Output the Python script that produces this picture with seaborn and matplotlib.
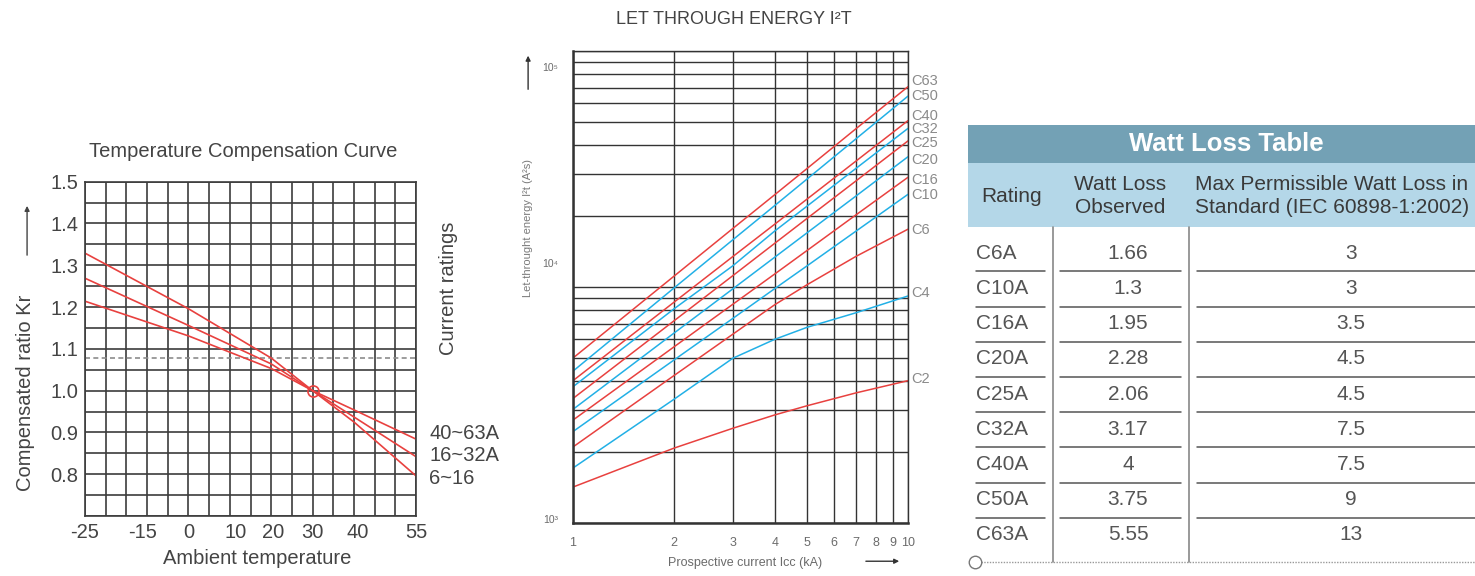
import numpy as np
import pandas as pd
import matplotlib
matplotlib.use("Agg")
import matplotlib.pyplot as plt
from matplotlib.ticker import MultipleLocator, FixedLocator, NullLocator, NullFormatter, LogLocator
from matplotlib.patches import Rectangle
import seaborn as sns

# --- temperature compensation curve ---
temp_c = [-25, 0, 20, 30, 40, 55]
kr_6_16 = [1.329, 1.196, 1.078, 1.0, 0.925, 0.796]
kr_16_32 = [1.269, 1.156, 1.064, 1.0, 0.937, 0.842]
kr_40_63 = [1.214, 1.131, 1.053, 1.0, 0.954, 0.884]
kr_series = ["40~63A", "16~32A", "6~16"]
kr_ref = 1.078
temp_tick_pos = [-25, -11, 0, 11.5, 20.5, 30, 41, 55]
temp_tick_labels = ["-25", "-15", "0", "10", "20", "30", "40", "55"]
kr_ticks = [0.8, 0.9, 1.0, 1.1, 1.2, 1.3, 1.4, 1.5]

# --- let-through energy I2t (A2s) vs prospective current (kA) ---
icc_ka = [1, 2, 3, 4, 5, 7, 10]
i2t_c63 = [5000, 11100, 17700, 24600, 31800, 46900, 70600]
i2t_c50 = [4400, 9890, 15850, 22130, 28700, 42500, 64400]
i2t_c40 = [4010, 8610, 13460, 18450, 23600, 34200, 50700]
i2t_c32 = [3780, 8070, 12300, 17260, 22030, 31840, 47000]
i2t_c25 = [3370, 7180, 11170, 15310, 19540, 28180, 41600]
i2t_c20 = [3030, 6370, 9820, 13370, 16980, 24320, 35650]
i2t_c16 = [2730, 5570, 8450, 11350, 14290, 20230, 29170]
i2t_c10 = [2440, 4900, 7360, 9840, 12300, 17260, 24700]
i2t_c6 = [2100, 4210, 6310, 8410, 10230, 13490, 17580]
i2t_c4 = [1710, 3340, 4990, 6000, 6750, 7780, 9160]
i2t_c2 = [1420, 2075, 2520, 2870, 3140, 3560, 4010]
curve_names = ["C63", "C50", "C40", "C32", "C25", "C20", "C16", "C10", "C6", "C4", "C2"]
label_dy = [4, 0, 3.5, -0.5, -1.5, -2.5, -2, -0.5, -0.5, 2, 1]
icc_ticks = [1, 2, 3, 4, 5, 6, 7, 8, 9, 10]
i2t_tick_pos = [1040, 12600, 85500]
i2t_tick_labels = ["10³", "10⁴", "10⁵"]

# --- watt loss table ---
ratings = ["C6A", "C10A", "C16A", "C20A", "C25A", "C32A", "C40A", "C50A", "C63A"]
watt_observed = ["1.66", "1.3", "1.95", "2.28", "2.06", "3.17", "4", "3.75", "5.55"]
watt_max = ["3", "3", "3.5", "4.5", "4.5", "7.5", "7.5", "9", "13"]

RED = "#e8413f"
BLUE = "#22b0e6"

sns.set_theme(style="white")
plt.rcParams["font.family"] = ["Liberation Sans", "DejaVu Sans"]

fig = plt.figure(figsize=(14.75, 5.76), dpi=100)

# ================= left chart =================
ax1 = fig.add_axes([85 / 1475, 1 - 516 / 576, 331 / 1475, 334.3 / 576])
df1 = pd.DataFrame({"temp": temp_c, "40~63A": kr_40_63, "16~32A": kr_16_32, "6~16": kr_6_16})
df1 = df1.melt(id_vars="temp", var_name="rating", value_name="kr")
sns.lineplot(data=df1, x="temp", y="kr", hue="rating", palette=[RED] * 3,
             estimator=None, lw=1.2, legend=False, ax=ax1)
ax1.axhline(kr_ref, color="#8c8c8c", ls=(0, (3, 2)), lw=1.2, zorder=1)
ax1.plot(temp_c[3], kr_6_16[3], "o", mfc="none", mec=RED, ms=8, mew=1.2)

ax1.set_xlim(-25, 55)
ax1.set_ylim(0.7, 1.5)
ax1.xaxis.remove_overlapping_locs = False
ax1.yaxis.remove_overlapping_locs = False
ax1.xaxis.set_major_locator(FixedLocator(temp_tick_pos))
ax1.set_xticklabels(temp_tick_labels)
ax1.xaxis.set_minor_locator(MultipleLocator(5))
ax1.set_yticks(kr_ticks)
ax1.set_yticklabels([f"{v:.1f}" for v in kr_ticks])
ax1.yaxis.set_minor_locator(MultipleLocator(0.05))
ax1.grid(False, which="major")
ax1.grid(True, which="minor", color="#3c3c3c", lw=1.2)
ax1.tick_params(which="both", length=0, labelsize=14.5, labelcolor="#444444", pad=5)
for s in ax1.spines.values():
    s.set_color("#3c3c3c")
    s.set_linewidth(1.2)
ax1.set_xlabel("")
ax1.set_ylabel("")

ax1.text(0.477, 1.089, "Temperature Compensation Curve", transform=ax1.transAxes,
         ha="center", va="center", fontsize=14.5, color="#444444")
ax1.text(0.519, -0.127, "Ambient temperature", transform=ax1.transAxes,
         ha="center", va="center", fontsize=14.5, color="#444444")
ax1.text(-0.181, 0.368, "Compensated ratio Kr", transform=ax1.transAxes, rotation=90,
         ha="center", va="center", fontsize=14.5, color="#444444")
ax1.annotate("", xy=(-0.175, 0.936), xytext=(-0.175, 0.772), xycoords="axes fraction",
             arrowprops=dict(arrowstyle="-|>", color="#444444", lw=1.0, mutation_scale=7))
ax1.text(1.097, 0.682, "Current ratings", transform=ax1.transAxes, rotation=90,
         ha="center", va="center", fontsize=14.5, color="#444444")
for name, vals, dy in zip(kr_series, [kr_40_63, kr_16_32, kr_6_16], [4.3, 1.1, -1.7]):
    ax1.annotate(name, xy=(temp_c[-1], vals[-1]), xytext=(9.5, dy), textcoords="offset points",
                 ha="left", va="center", fontsize=14.5, color="#444444", annotation_clip=False)

# ================= middle chart =================
ax2 = fig.add_axes([573 / 1475, 1 - 523 / 576, 335 / 1475, 472 / 576])
ax2.set_xscale("log")
ax2.set_yscale("log")
curve_vals = [i2t_c63, i2t_c50, i2t_c40, i2t_c32, i2t_c25, i2t_c20,
              i2t_c16, i2t_c10, i2t_c6, i2t_c4, i2t_c2]
df2 = pd.DataFrame({
    "icc": icc_ka * len(curve_names),
    "i2t": np.concatenate(curve_vals),
    "curve": np.repeat(curve_names, len(icc_ka)),
})
pal = {n: (RED if i % 2 == 0 else BLUE) for i, n in enumerate(curve_names)}
sns.lineplot(data=df2, x="icc", y="i2t", hue="curve", palette=pal,
             estimator=None, lw=1.1, legend=False, ax=ax2)
ax2.set_xlim(1, 10)
ax2.set_ylim(1000, 100000)

ax2.xaxis.set_major_locator(FixedLocator(icc_ticks))
ax2.set_xticklabels([str(t) for t in icc_ticks])
ax2.xaxis.set_minor_locator(NullLocator())
ax2.yaxis.remove_overlapping_locs = False
ax2.yaxis.set_major_locator(FixedLocator(i2t_tick_pos))
ax2.set_yticklabels(i2t_tick_labels)
ax2.yaxis.set_minor_locator(LogLocator(base=10, subs=np.arange(1, 10)))
ax2.yaxis.set_minor_formatter(NullFormatter())
ax2.xaxis.grid(True, which="major", color="#333333", lw=1.0)
ax2.yaxis.grid(False, which="major")
ax2.yaxis.grid(True, which="minor", color="#333333", lw=1.0)
ax2.tick_params(axis="x", which="both", length=0, labelsize=9, labelcolor="#6b6b6b", pad=10)
ax2.tick_params(axis="y", which="both", length=0, labelsize=7.5, labelcolor="#6b6b6b", pad=11)
for side in ["top", "right"]:
    ax2.spines[side].set_color("#333333")
    ax2.spines[side].set_linewidth(1.0)
for side in ["left", "bottom"]:
    ax2.spines[side].set_color("#333333")
    ax2.spines[side].set_linewidth(1.8)
ax2.set_xlabel("")
ax2.set_ylabel("")

for name, vals, dy in zip(curve_names, curve_vals, label_dy):
    ax2.annotate(name, xy=(icc_ka[-1], vals[-1]), xytext=(2.5, dy), textcoords="offset points",
                 ha="left", va="center", fontsize=10.5, color="#8a8a8a", annotation_clip=False)

ax2.text(0.481, 1.066, "LET THROUGH ENERGY I²T", transform=ax2.transAxes,
         ha="center", va="center", fontsize=13, color="#444444")
ax2.text(0.513, -0.085, "Prospective current Icc (kA)", transform=ax2.transAxes,
         ha="center", va="center", fontsize=9, color="#6b6b6b")
ax2.annotate("", xy=(0.982, -0.081), xytext=(0.866, -0.081), xycoords="axes fraction",
             arrowprops=dict(arrowstyle="-|>", color="#333333", lw=1.0, mutation_scale=7))
ax2.text(-0.134, 0.625, "Let-throught energy I²t (A²s)", transform=ax2.transAxes, rotation=90,
         ha="center", va="center", fontsize=8, color="#7a7a7a")
ax2.annotate("", xy=(-0.134, 0.996), xytext=(-0.134, 0.913), xycoords="axes fraction",
             arrowprops=dict(arrowstyle="-|>", color="#333333", lw=1.0, mutation_scale=7))

# ================= watt loss table =================
ax3 = fig.add_axes([960 / 1475, 0, 515 / 1475, 456 / 576])
ax3.set_xlim(960, 1475)
ax3.set_ylim(576, 120)
ax3.axis("off")
ax3.add_patch(Rectangle((968, 125), 507, 37.7, color="#73a1b5", lw=0))
ax3.add_patch(Rectangle((968, 162.7), 507, 64, color="#b4d7e8", lw=0))
ax3.text(1226.7, 144, "Watt Loss Table", ha="center", va="center", fontsize=18.5,
         fontweight="bold", color="white")
ax3.text(1012, 197, "Rating", ha="center", va="center", fontsize=15, color="#3a3a3a")
ax3.text(1120, 196, "Watt Loss\nObserved", ha="center", va="center", fontsize=15,
         color="#3a3a3a", linespacing=1.3)
ax3.text(1332, 196, "Max Permissible Watt Loss in\nStandard (IEC 60898-1:2002)",
         ha="center", va="center", fontsize=15, color="#3a3a3a", linespacing=1.3)

row_top = 253.3
row_step = 35.2
for i, (r, o, m) in enumerate(zip(ratings, watt_observed, watt_max)):
    y = row_top + i * row_step
    ax3.text(976, y, r, ha="left", va="center", fontsize=15, color="#555555")
    ax3.text(1128, y, o, ha="center", va="center", fontsize=15, color="#555555")
    ax3.text(1351, y, m, ha="center", va="center", fontsize=15, color="#555555")
    if i < len(ratings) - 1:
        ys = y + 18
        for x0, x1 in [(976, 1045), (1060, 1181), (1197, 1475)]:
            ax3.plot([x0, x1], [ys, ys], color="#555555", lw=1.1)
for xv in [1053.3, 1188.7]:
    ax3.plot([xv, xv], [226.7, 562], color="#888888", lw=1.2)
ax3.plot([981, 1475], [562, 562], color="#999999", lw=1.0, ls=(0, (1, 1)))
ax3.plot([975], [562], "o", mfc="white", mec="#777777", ms=9, mew=1.0)

fig.savefig("out.png", dpi=100)
